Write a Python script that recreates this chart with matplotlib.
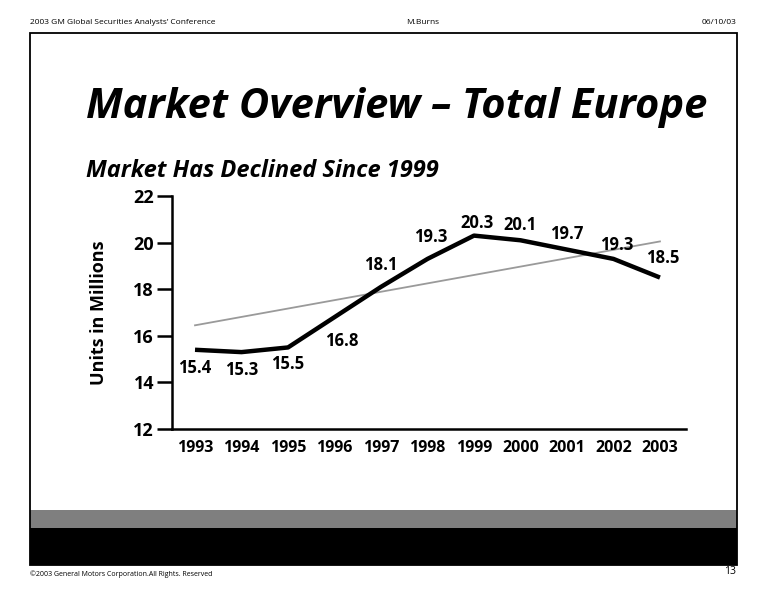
import matplotlib
matplotlib.use("Agg")
import matplotlib.pyplot as plt
from matplotlib.patches import Rectangle

years = [1993, 1994, 1995, 1996, 1997, 1998, 1999, 2000, 2001, 2002, 2003]
units = [15.4, 15.3, 15.5, 16.8, 18.1, 19.3, 20.3, 20.1, 19.7, 19.3, 18.5]
trend_years = [1993, 2003]
trend_values = [16.45, 20.05]
y_ticks = [12, 14, 16, 18, 20, 22]
# label offsets (points) relative to each data point
label_offsets = [(0, -13), (0, -13), (0, -12), (5, -17), (0, 16), (2, 16),
                 (2, 9), (0, 11), (0, 11), (2, 10), (2, 14)]

plt.rcParams['font.family'] = ['Open Sans', 'DejaVu Sans']

W, H = 772, 600
fig = plt.figure(figsize=(W / 100, H / 100), dpi=100)
fig.patch.set_facecolor('white')

def fx(x):
    return x / W

def fy(y):
    return 1 - y / H

# header
fig.text(fx(30), fy(22), "2003 GM Global Securities Analysts\u2019 Conference", fontsize=6,
         ha='left', va='center')
fig.text(fx(423), fy(22), "M.Burns", fontsize=6, ha='center', va='center')
fig.text(fx(736), fy(22), "06/10/03", fontsize=6, ha='right', va='center')

# frame
fig.patches.append(Rectangle((fx(30), fy(565)), fx(737) - fx(30), fy(33) - fy(565),
                             transform=fig.transFigure, fill=False, edgecolor='black',
                             linewidth=1.3, zorder=5))
fig.patches.append(Rectangle((fx(30), fy(528)), fx(737) - fx(30), fy(510) - fy(528),
                             transform=fig.transFigure, facecolor='#7f7f7f',
                             edgecolor='none', zorder=4))
fig.patches.append(Rectangle((fx(30), fy(565)), fx(737) - fx(30), fy(528) - fy(565),
                             transform=fig.transFigure, facecolor='black',
                             edgecolor='none', zorder=4))

# footer
fig.text(fx(30), fy(574), "\u00a92003 General Motors Corporation.All Rights. Reserved",
         fontsize=5, ha='left', va='center')
fig.text(fx(736), fy(571), "13", fontsize=7.5, ha='right', va='center')

# titles
fig.text(fx(86), fy(108), "Market Overview \u2013 Total Europe", fontsize=30,
         fontweight='bold', fontstyle='italic', ha='left', va='center')
fig.text(fx(86), fy(171), "Market Has Declined Since 1999", fontsize=17,
         fontweight='bold', fontstyle='italic', ha='left', va='center')

# axes
ax = fig.add_axes([fx(172), fy(429), fx(686) - fx(172), fy(196) - fy(429)])
ax.set_xlim(1992.505, 2003.56)
ax.set_ylim(12, 22)
ax.plot(trend_years, trend_values, color='#9a9a9a', linewidth=1.3, zorder=2)
ax.plot(years, units, color='black', linewidth=3.2, solid_joinstyle='round',
        solid_capstyle='butt', zorder=3)
for x, v, off in zip(years, units, label_offsets):
    ax.annotate(f"{v:.1f}", (x, v), xytext=off, textcoords='offset points',
                ha='center', va='center', fontsize=12, fontweight='bold')

for s in ['top', 'right']:
    ax.spines[s].set_visible(False)
ax.spines['left'].set_linewidth(1.8)
ax.spines['bottom'].set_linewidth(1.8)
ax.set_yticks(y_ticks)
ax.set_xticks(years)
ax.set_xticklabels([str(y) for y in years])
ax.tick_params(axis='y', direction='out', length=11, width=1.8, labelsize=13, pad=2)
ax.tick_params(axis='x', length=0, labelsize=11.5, pad=8)
for lbl in ax.get_yticklabels() + ax.get_xticklabels():
    lbl.set_fontweight('bold')
ax.set_ylabel("Units in Millions", fontsize=13, fontweight='bold', labelpad=18)
ax.patch.set_alpha(0)

fig.savefig("out.png", dpi=100)
